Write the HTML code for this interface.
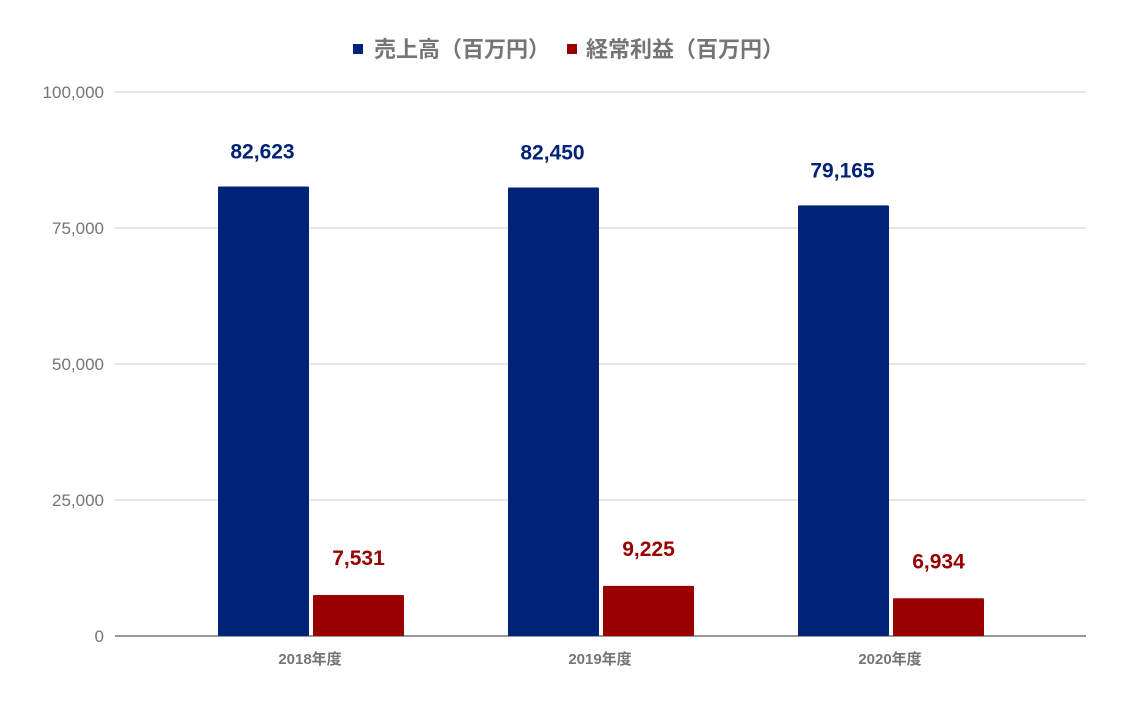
<!DOCTYPE html>
<html><head><meta charset="utf-8">
<style>
html,body{margin:0;padding:0;background:#fff;}
svg{display:block;font-family:"Liberation Sans","Noto Sans CJK JP",sans-serif;}
</style></head>
<body>
<svg id="chart" width="1122" height="703" xmlns="http://www.w3.org/2000/svg">
<g>
  <rect x="353" y="44" width="10" height="10" fill="#002277"/>
  <text x="374" y="57" font-size="22" font-weight="bold" fill="#757575">売上高（百万円）</text>
  <rect x="567" y="44" width="10" height="10" fill="#990000"/>
  <text x="586" y="57" font-size="22" font-weight="bold" fill="#757575">経常利益（百万円）</text>
</g>
<g id="grid"></g>
<g id="bars"></g>
</svg>
<script>
const categories = ["2018年度","2019年度","2020年度"];
const sales = [82623, 82450, 79165];
const profit = [7531, 9225, 6934];
const yTicks = [0, 25000, 50000, 75000, 100000];

const NS = "http://www.w3.org/2000/svg";
const x0 = 115, x1 = 1086, yBase = 636, yTop = 92, yMax = 100000;
const y = v => yBase - (v / yMax) * (yBase - yTop);
const band = 290, firstCenter = 310;
const cx = i => firstCenter + i * band;
const barW = 91, gap = 2;
const fmt = v => v.toLocaleString("en-US");
function mk(tag, attrs, parent) {
  const e = document.createElementNS(NS, tag);
  for (const k in attrs) e.setAttribute(k, attrs[k]);
  parent.appendChild(e);
  return e;
}
const grid = document.getElementById("grid");
const bars = document.getElementById("bars");
yTicks.forEach(t => {
  const ln = mk("line", {x1: x0, x2: x1, y1: y(t), y2: y(t), stroke: t === 0 ? "#333" : "#ccc", "stroke-width": 1}, grid);
  
  
  const tx = mk("text", {x: 104, y: y(t) + 6, "text-anchor": "end", "font-size": 17, fill: "#757575"}, grid);
  tx.textContent = fmt(t);
  
  
});
categories.forEach((c, i) => {
  const bx = cx(i) - barW - gap / 2;
  const b1 = mk("rect", {x: bx, y: y(sales[i]), width: barW, height: yBase - y(sales[i]), fill: "#002277", rx: 1}, bars);
  
  
  const l1 = mk("text", {x: bx + barW / 2 - 1, y: y(sales[i]) - 28, "text-anchor": "middle", "font-size": 21, "font-weight": "bold", fill: "#002277"}, bars);
  l1.textContent = fmt(sales[i]);
  
  
  const rx = cx(i) + gap / 2 + 2;
  const b2 = mk("rect", {x: rx, y: y(profit[i]), width: barW, height: yBase - y(profit[i]), fill: "#990000", rx: 1}, bars);
  
  
  const l2 = mk("text", {x: rx + barW / 2, y: y(profit[i]) - 30, "text-anchor": "middle", "font-size": 21, "font-weight": "bold", fill: "#990000"}, bars);
  l2.textContent = fmt(profit[i]);
  
  
  const xl = mk("text", {x: cx(i), y: 664, "text-anchor": "middle", "font-size": 15, "font-weight": "bold", fill: "#757575"}, bars);
  xl.textContent = c;
  
  
});
</script>
</body></html>
